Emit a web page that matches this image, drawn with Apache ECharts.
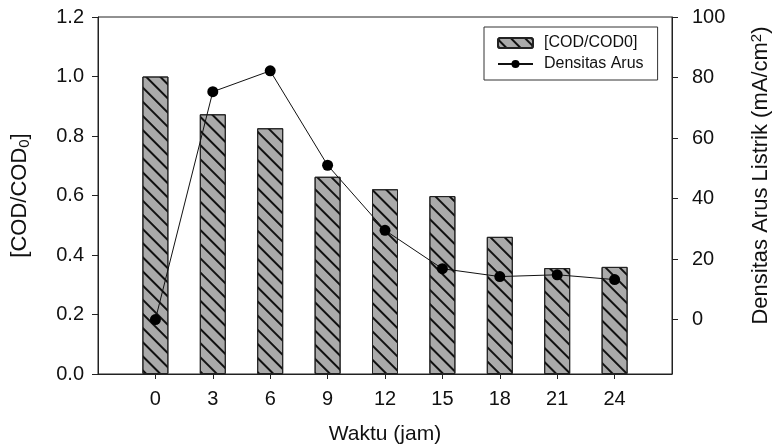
<!DOCTYPE html>
<html>
<head>
<meta charset="utf-8">
<script src="https://cdn.jsdelivr.net/npm/echarts@6/dist/echarts.min.js"></script>
<style>
html,body{margin:0;padding:0;background:#fff;}
#chart{width:777px;height:446px;}
</style>
</head>
<body>
<div id="chart"></div>
<script>
// ---- data ----
const hours = [0, 3, 6, 9, 12, 15, 18, 21, 24];
const codRatio = [1.0, 0.873, 0.826, 0.663, 0.621, 0.598, 0.461, 0.356, 0.360];
const density = [0, 75.3, 82.2, 51.0, 29.5, 16.8, 14.2, 14.8, 13.2];
const leftTicks = [0, 0.2, 0.4, 0.6, 0.8, 1.0, 1.2];
const rightTicks = [0, 20, 40, 60, 80, 100];
const barName = '[COD/COD0]';
const lineName = 'Densitas Arus';

const FONT = 'Liberation Sans, Arial, sans-serif';
const chart = echarts.init(document.getElementById('chart'), null, {renderer: 'canvas'});

const option = {
  backgroundColor: '#fff',
  animation: false,
  textStyle: {fontFamily: FONT, color: '#111'},
  grid: {left: 98, right: 105, top: 17, bottom: 72, containLabel: false, outerBoundsMode: 'none',
    show: true, borderColor: '#222', borderWidth: 1, backgroundColor: 'transparent'},
  legend: {
    orient: 'vertical',
    left: 484, top: 27,
    padding: [8, 14, 8, 13],
    itemGap: 5,
    itemWidth: 35, itemHeight: 10,
    borderColor: '#333', borderWidth: 1,
    textStyle: {fontSize: 16, fontFamily: FONT, color: '#111', padding: [0, 0, 0, 6]},
    data: [barName, lineName]
  },
  xAxis: {
    type: 'value', min: -3, max: 27,
    name: 'Waktu (jam)', nameLocation: 'middle', nameGap: 50,
    nameTextStyle: {fontSize: 21, fontFamily: FONT, color: '#111'},
    axisLine: {onZero: false, lineStyle: {color: '#222', width: 1}},
    axisTick: {show: true, inside: false, length: 5, customValues: hours, lineStyle: {color: '#222'}},
    axisLabel: {fontSize: 20, color: '#111', margin: 15, customValues: hours, fontFamily: FONT},
    splitLine: {show: false}
  },
  yAxis: [
    {
      type: 'value', min: 0, max: 1.2, interval: 0.2,
      name: '[COD/COD{sub|0}]', nameLocation: 'middle', nameGap: 66, nameRotate: 90,
      nameTextStyle: {fontSize: 22, fontFamily: FONT, color: '#111',
        rich: {sub: {fontSize: 15, fontFamily: FONT, color: '#111', padding: [9, 0, 0, 0]}}},
      axisLine: {show: true, onZero: false, lineStyle: {color: '#222', width: 1}},
      axisTick: {show: true, length: 6, lineStyle: {color: '#222'}},
      axisLabel: {fontSize: 20, color: '#111', margin: 14, fontFamily: FONT,
        formatter: v => v.toFixed(1)},
      splitLine: {show: false}
    },
    {
      type: 'value', min: -18, max: 100, position: 'right',
      name: 'Densitas Arus Listrik (mA/cm{sup|2})', nameLocation: 'middle', nameGap: 77, nameRotate: 90,
      nameTextStyle: {fontSize: 22, fontFamily: FONT, color: '#111', padding: [0, 0, 0, 40],
        rich: {sup: {fontSize: 15, fontFamily: FONT, color: '#111', padding: [0, 0, 9, 0]}}},
      axisLine: {show: true, onZero: false, lineStyle: {color: '#222', width: 1}},
      axisTick: {show: true, length: 6, customValues: rightTicks, lineStyle: {color: '#222'}},
      axisLabel: {fontSize: 20, color: '#111', margin: 20, customValues: rightTicks, fontFamily: FONT},
      splitLine: {show: false}
    }
  ],
  series: [
    {
      name: barName, type: 'bar', xAxisIndex: 0, yAxisIndex: 0,
      barWidth: 26,
      data: hours.map((h, i) => [h, codRatio[i]]),
      itemStyle: {
        color: '#aaaaaa', borderColor: '#222', borderWidth: 1,
        decal: {symbol: 'rect', symbolSize: 1, dashArrayX: [1, 0], dashArrayY: [1.3, 8], rotation: Math.PI / 4, color: '#111'}
      }
    },
    {
      name: lineName, type: 'line', xAxisIndex: 0, yAxisIndex: 1,
      data: hours.map((h, i) => [h, density[i]]),
      symbol: 'circle', symbolSize: 11,
      lineStyle: {color: '#111', width: 1},
      itemStyle: {color: '#000'}
    }
  ]
};
chart.setOption(option);
</script>
</body>
</html>
